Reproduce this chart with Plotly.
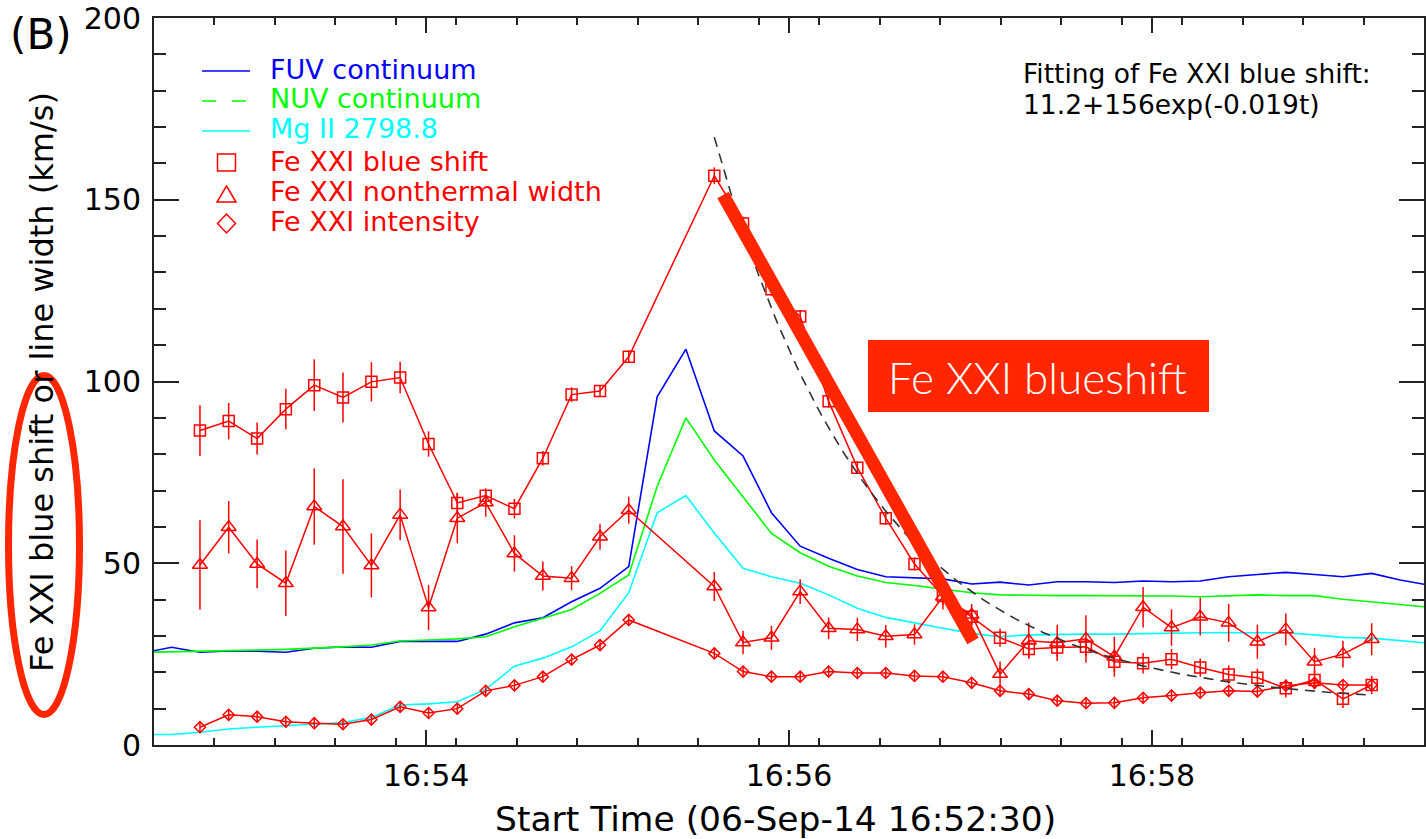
import math
import pandas as pd
import plotly.graph_objects as go

# ---------------------------------------------------------------- data
T0 = pd.Timestamp("2014-09-06 16:52:30")

# Fe XXI exposures, seconds after 16:52:30 (two exposures missing before the peak)
fe_t = [15.2, 24.7, 34.1, 43.6, 53.0, 62.5, 71.9, 81.4, 90.8, 100.3,
        109.7, 119.2, 128.6, 138.1, 147.5, 157.0,
        185.3, 194.8, 204.2, 213.7, 223.1, 232.6, 242.0, 251.5, 260.9, 270.4,
        279.8, 289.3, 298.7, 308.2, 317.6, 327.1, 336.5, 346.0, 355.4, 364.9,
        374.3, 383.8, 393.2, 402.7]

fe_blueshift = [86.5, 89.1, 84.3, 92.4, 99.0, 95.6, 99.9, 101.1, 82.8, 66.6,
                68.6, 65.0, 78.9, 96.4, 97.4, 106.8,
                156.6, 143.5, 125.4, 117.9, 94.6, 76.3, 62.4, 49.8, 41.0, 35.3,
                29.5, 26.4, 26.8, 27.0, 22.9, 22.5, 23.6, 21.3, 19.4, 18.5,
                15.6, 17.9, 12.7, 16.5]
fe_blueshift_err = [7.0, 5.0, 4.4, 5.6, 7.1, 6.9, 5.4, 4.3, 3.5, 2.8,
                    1.6, 2.7, 2.0, 2.0, 1.6, 1.7,
                    2.3, 1.8, 1.8, 1.8, 1.8, 1.8, 1.8, 1.8, 2.5, 2.5,
                    2.5, 2.5, 2.5, 2.5, 2.8, 2.8, 2.8, 2.5, 2.5, 2.5,
                    2.5, 2.5, 2.5, 2.5]

fe_width = [49.5, 59.9, 49.8, 44.5, 65.6, 60.1, 49.4, 63.3, 37.8, 62.4,
            66.7, 52.7, 46.5, 45.9, 57.3, 64.6,
            43.6, 28.2, 29.5, 42.2, 32.1, 31.8, 29.9, 30.4, 40.8, 35.8,
            19.5, 28.7, 28.1, 29.2, 24.3, 37.9, 32.3, 35.3, 33.6, 28.4,
            31.8, 22.9, 25.0, 29.1]
fe_width_err = [12.3, 7.2, 6.7, 9.0, 10.5, 13.0, 8.8, 7.0, 6.2, 6.9,
                3.9, 5.0, 4.0, 3.3, 3.6, 3.7,
                4.0, 3.2, 3.3, 3.4, 3.0, 3.2, 3.1, 2.8, 3.5, 3.0,
                3.5, 5.0, 5.0, 6.5, 5.5, 5.6, 5.0, 5.2, 5.2, 4.7,
                4.4, 3.8, 3.7, 4.4]

fe_intensity = [4.9, 8.3, 7.8, 6.4, 6.0, 5.7, 7.0, 10.5, 8.8, 10.0,
                14.9, 16.4, 18.8, 23.5, 27.5, 34.4,
                25.2, 20.2, 18.8, 18.8, 20.2, 19.8, 19.8, 19.0, 18.8, 17.1,
                14.9, 14.0, 12.2, 11.5, 11.6, 13.0, 13.6, 14.4, 14.9, 14.7,
                16.3, 17.1, 16.5, 16.5]
fe_intensity_err = [1.5] * 40

# continuum / Mg II light curves, seconds after 16:52:30
cont_t = [-3.7, 5.8, 15.2, 24.7, 34.1, 43.6, 53.0, 62.5, 71.9, 81.4,
          90.8, 100.3, 109.7, 119.2, 128.6, 138.1, 147.5, 157.0, 166.4, 175.9,
          185.3, 194.8, 204.2, 213.7, 223.1, 232.6, 242.0, 251.5, 260.9, 270.4,
          279.8, 289.3, 298.7, 308.2, 317.6, 327.1, 336.5, 346.0, 355.4, 364.9,
          374.3, 383.8, 393.2, 402.7, 412.1, 421.6]
fuv_cont = [25.3, 26.9, 25.5, 25.9, 25.8, 25.5, 26.6, 27.0, 26.9, 28.5,
            28.5, 28.5, 30.5, 33.6, 35.0, 39.4, 43.1, 49.1, 95.8, 108.9,
            86.4, 79.5, 63.9, 54.7, 51.4, 48.3, 46.3, 46.1, 45.7, 44.3,
            44.8, 44.0, 44.9, 44.9, 44.7, 45.1, 44.9, 45.1, 46.3, 46.9,
            47.5, 46.9, 46.3, 47.2, 45.4, 44.0]
nuv_cont = [25.5, 25.6, 25.8, 25.9, 26.1, 26.3, 26.6, 27.0, 27.5, 28.6,
            28.9, 29.2, 29.8, 32.5, 34.9, 37.3, 41.7, 46.8, 71.1, 90.0,
            78.4, 68.3, 58.2, 52.9, 49.2, 46.5, 44.7, 43.9, 42.9, 41.9,
            41.3, 41.1, 41.1, 41.1, 41.1, 41.1, 41.0, 40.8, 41.1, 41.3,
            41.1, 41.1, 40.1, 39.4, 38.7, 37.9]
mg2_line = [2.9, 2.9, 3.5, 4.4, 4.9, 5.3, 5.7, 6.2, 7.6, 11.0,
            11.3, 11.9, 15.3, 21.7, 23.9, 27.0, 31.4, 41.9, 63.9, 68.6,
            58.3, 48.6, 46.3, 44.5, 41.3, 37.6, 35.1, 33.5, 32.1, 30.7,
            29.8, 30.3, 30.5, 30.5, 30.5, 30.7, 30.8, 30.9, 30.9, 31.0,
            30.9, 30.3, 29.6, 29.4, 28.7, 28.0]

# exponential fit of the blue shift decay, t in s after the peak
FIT_A, FIT_B, FIT_K = 11.2, 156.0, 0.019

x_tick_labels = ["16:54", "16:56", "16:58"]
y_tick_vals = [0, 50, 100, 150, 200]

# ---------------------------------------------------------------- helpers
W, H = 1426, 839
ML, MR, MT, MB = 154, 2, 18, 94
PW, PH = W - ML - MR, H - MT - MB


def times(seconds):
    return [T0 + pd.Timedelta(seconds=s) for s in seconds]


def px(x):
    return (x - ML) / PW


def py(y):
    return (H - MB - y) / PH


RED = "#ff0000"
ACCENT = "#ff2600"
FONT = "DejaVu Sans"
AXC = "#222222"

# fit curve from the peak of the blue shift to the last exposure
i_peak = fe_blueshift.index(max(fe_blueshift))
fit_start, fit_end = fe_t[i_peak], fe_t[-1]
n_fit = 120
fit_t = [fit_start + (fit_end - fit_start) * k / n_fit for k in range(n_fit + 1)]
fit_v = [FIT_A + FIT_B * math.exp(-FIT_K * (t - fit_start)) for t in fit_t]

fig = go.Figure()

line_specs = [
    (fuv_cont, "#0000ff", "FUV continuum"),
    (nuv_cont, "#00ff00", "NUV continuum"),
    (mg2_line, "#00ffff", "Mg II 2798.8"),
]
for vals, col, name in line_specs:
    fig.add_trace(go.Scatter(x=times(cont_t), y=vals, mode="lines", name=name,
                             line=dict(color=col, width=1.6), showlegend=False))

fe_specs = [
    (fe_intensity, fe_intensity_err, "diamond-open", 8.5, "Fe XXI intensity"),
    (fe_width, fe_width_err, "triangle-up-open", 13, "Fe XXI nonthermal width"),
    (fe_blueshift, fe_blueshift_err, "square-open", 11, "Fe XXI blue shift"),
]
for vals, err, sym, size, name in fe_specs:
    fig.add_trace(go.Scatter(
        x=times(fe_t), y=vals, mode="lines+markers", name=name, showlegend=False,
        line=dict(color=RED, width=1.5),
        marker=dict(symbol=sym, size=size, color=RED, line=dict(color=RED, width=1.5)),
        error_y=dict(type="data", array=err, visible=True, color=RED,
                     thickness=1.5, width=0),
    ))

fig.add_trace(go.Scatter(x=times(fit_t), y=fit_v, mode="lines", showlegend=False,
                         name="fit", line=dict(color="#333333", width=1.6,
                                               dash="10px,7px")))

# ---------------------------------------------------------------- legend (drawn in place)
shapes = []
annotations = []

lx0, lx1, lxt = 202, 250, 268
legend_lines = [("#0000ff", "solid", 71), ("#00ff00", "14px,16px", 101),
                ("#00ffff", "solid", 131)]
for col, dash, yy in legend_lines:
    shapes.append(dict(type="line", xref="paper", yref="paper",
                       x0=px(lx0), x1=px(lx1), y0=py(yy), y1=py(yy),
                       line=dict(color=col, width=1.6, dash=dash)))

cx = 226.5
shapes.append(dict(type="rect", xref="paper", yref="paper",
                   x0=px(cx - 9), x1=px(cx + 9), y0=py(171), y1=py(154),
                   line=dict(color=RED, width=1.5)))
tri = "M {:.5f} {:.5f} L {:.5f} {:.5f} L {:.5f} {:.5f} Z".format(
    px(cx), py(186), px(cx - 9.5), py(202), px(cx + 9.5), py(202))
shapes.append(dict(type="path", xref="paper", yref="paper", path=tri,
                   line=dict(color=RED, width=1.5)))
dia = "M {:.5f} {:.5f} L {:.5f} {:.5f} L {:.5f} {:.5f} L {:.5f} {:.5f} Z".format(
    px(cx), py(214), px(cx + 9), py(223.5), px(cx), py(233), px(cx - 9), py(223.5))
shapes.append(dict(type="path", xref="paper", yref="paper", path=dia,
                   line=dict(color=RED, width=1.5)))

legend_text = [("FUV continuum", "#0000ff", 69), ("NUV continuum", "#00ff00", 99),
               ("Mg II 2798.8", "#00ffff", 129), ("Fe XXI blue shift", RED, 161),
               ("Fe XXI nonthermal width", RED, 191), ("Fe XXI intensity", RED, 221)]
for txt, col, yy in legend_text:
    annotations.append(dict(text=txt, xref="paper", yref="paper", x=px(lxt), y=py(yy),
                            xanchor="left", yanchor="middle", showarrow=False,
                            font=dict(family=FONT, size=27, color=col)))

# two stacked lines: the base size sets the line pitch, the spans set the glyph size
fit_label = ("<span style='font-size:26.5px'>Fitting of Fe XXI blue shift:</span><br>"
             "<span style='font-size:26.5px'>11.2+156exp(-0.019t)</span>")

# ---------------------------------------------------------------- labels & highlights
annotations += [
    dict(text="(B)", xref="paper", yref="paper", x=px(41), y=py(35),
         xanchor="center", yanchor="middle", showarrow=False,
         font=dict(family=FONT, size=42, color="black")),
    dict(text=fit_label, xref="paper", yref="paper", align="left",
         x=px(1021), y=py(89), xanchor="left", yanchor="middle", showarrow=False,
         font=dict(family=FONT, size=24, color="black")),
    dict(text="Start Time (06-Sep-14 16:52:30)", xref="paper", yref="paper",
         x=px(775), y=py(819), xanchor="center", yanchor="middle", showarrow=False,
         font=dict(family=FONT, size=34.5, color="black")),
    dict(text="Fe XXI blue shift or line width (km/s)", xref="paper", yref="paper",
         x=px(42), y=py(382), xanchor="center", yanchor="middle", showarrow=False,
         textangle=-90, font=dict(family=FONT, size=32, color="black")),
    dict(text="Fe XXI blueshift", xref="paper", yref="paper",
         x=px(1037), y=py(377), xanchor="center", yanchor="middle", showarrow=False,
         font=dict(family="Lato", size=44, color="white", weight=300)),
]

shapes += [
    dict(type="line", xref="paper", yref="paper", x0=px(723), y0=py(195),
         x1=px(973), y1=py(641), line=dict(color=ACCENT, width=13)),
    dict(type="rect", xref="paper", yref="paper", x0=px(868), x1=px(1209),
         y0=py(412), y1=py(340), fillcolor=ACCENT, line=dict(width=0)),
    dict(type="circle", xref="paper", yref="paper", x0=px(8.5), x1=px(79.5),
         y0=py(714.5), y1=py(375.5), line=dict(color=ACCENT, width=7)),
]

# ---------------------------------------------------------------- axes
axis_common = dict(showline=True, linecolor=AXC, linewidth=2, mirror="allticks",
                   ticks="inside", tickwidth=1.5, tickcolor=AXC,
                   showgrid=False, zeroline=False,
                   tickfont=dict(family=FONT, size=30, color="black"))

fig.update_xaxes(
    type="date",
    range=[T0, T0 + pd.Timedelta(minutes=7)],
    tickmode="array",
    tickvals=[pd.Timestamp("2014-09-06 " + s) for s in x_tick_labels],
    ticktext=x_tick_labels,
    ticklen=15,
    ticklabelstandoff=3,
    minor=dict(ticks="inside", ticklen=7, tickwidth=1.5, tickcolor=AXC,
               dtick=20000, tick0=T0, showgrid=False),
    **axis_common,
)
fig.update_yaxes(
    range=[0, 200],
    tickmode="array",
    tickvals=y_tick_vals,
    ticktext=[str(v) for v in y_tick_vals],
    ticklen=25,
    ticklabelstandoff=5,
    minor=dict(ticks="inside", ticklen=12, tickwidth=1.5, tickcolor=AXC,
               dtick=10, tick0=0, showgrid=False),
    **axis_common,
)

fig.update_layout(
    width=W, height=H,
    margin=dict(l=ML, r=MR, t=MT, b=MB, autoexpand=False),
    paper_bgcolor="white", plot_bgcolor="white",
    showlegend=False,
    shapes=shapes,
    annotations=annotations,
)

fig.write_html("out.html")
